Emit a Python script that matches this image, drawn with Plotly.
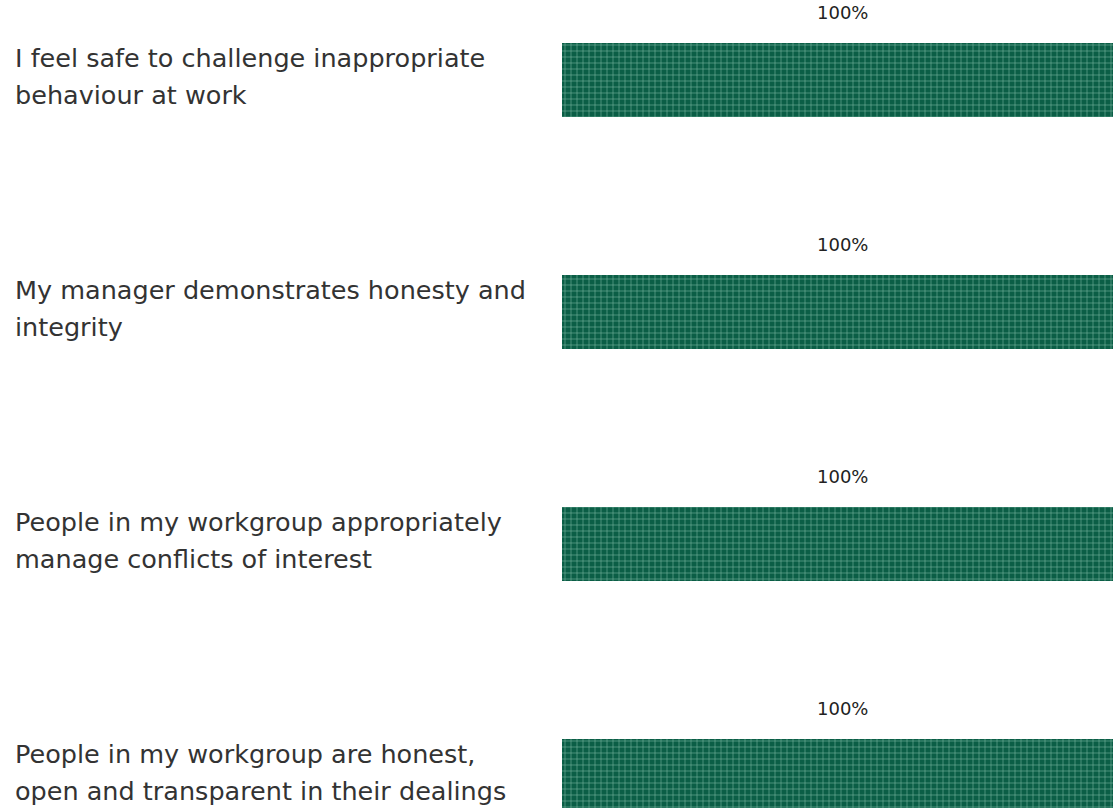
import plotly.graph_objects as go

# Survey statements and their agreement scores (%)
statements = [
    "I feel safe to challenge inappropriate<br>behaviour at work",
    "My manager demonstrates honesty and<br>integrity",
    "People in my workgroup appropriately<br>manage conflicts of interest",
    "People in my workgroup are honest,<br>open and transparent in their dealings",
]
scores = [100, 100, 100, 100]
score_labels = ["100%", "100%", "100%", "100%"]

W, H = 1113, 808
BAR_GREEN = "#0b5e46"
GRID_GREEN = "#8cc6b0"
TEXT_DARK = "#333333"
FONT = "DejaVu Sans"
LINE_GAP = 37  # px between wrapped statement lines

rows = list(range(len(statements)))

fig = go.Figure()
fig.add_trace(go.Bar(
    x=scores,
    y=rows,
    orientation="h",
    width=0.32,
    marker=dict(
        color=BAR_GREEN,
        line=dict(width=0),
        pattern=dict(shape="+", size=6, solidity=0.18,
                     fgcolor=GRID_GREEN, fgopacity=0.85, fillmode="replace",
                     bgcolor=BAR_GREEN),
    ),
    hoverinfo="skip",
    showlegend=False,
))

# Score labels centred above each bar
for r, v, lab in zip(rows, scores, score_labels):
    fig.add_annotation(
        x=v / 2, y=r, xref="x", yref="y",
        text=lab, showarrow=False,
        xanchor="center", yanchor="middle", yshift=68,
        font=dict(family=FONT, size=18, color="#222222"),
    )

# Statement text, left-aligned at the page edge, one annotation per line
for r, s in zip(rows, statements):
    lines = s.split("<br>")
    n = len(lines)
    for i, line in enumerate(lines):
        offset = (i - (n - 1) / 2) * LINE_GAP
        fig.add_annotation(
            x=13 / W, y=r, xref="paper", yref="y",
            text=line, showarrow=False,
            xanchor="left", yanchor="middle", align="left",
            yshift=4 - offset,
            font=dict(family=FONT, size=25.5, color=TEXT_DARK),
        )

px_per_row = 232.0
first_center = 80.0
y_top = -first_center / px_per_row
y_bottom = (len(rows) - 1) + (H - (first_center + (len(rows) - 1) * px_per_row)) / px_per_row

fig.update_layout(
    width=W, height=H,
    margin=dict(l=0, r=0, t=0, b=0),
    paper_bgcolor="white", plot_bgcolor="white",
    xaxis=dict(domain=[562 / W, 1], range=[0, 551 / 5.6], visible=False, fixedrange=True),
    yaxis=dict(range=[y_bottom, y_top], visible=False, fixedrange=True),
    bargap=0,
)

fig.write_html("out.html")
